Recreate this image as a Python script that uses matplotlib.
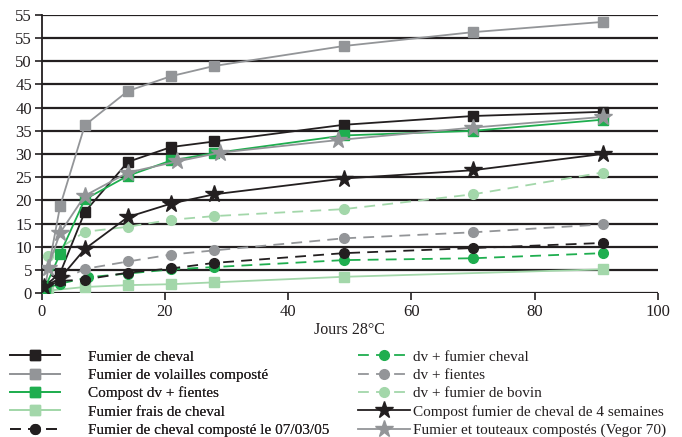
import matplotlib
matplotlib.use("Agg")
import matplotlib.pyplot as plt

plt.rcParams['font.family'] = ['Liberation Serif', 'DejaVu Serif']

# ---- data ----
labels = [
    "Fumier de cheval",
    "Fumier de volailles composté",
    "Compost dv + fientes",
    "Fumier frais de cheval",
    "Fumier de cheval composté le 07/03/05",
    "dv + fumier cheval",
    "dv + fientes",
    "dv + fumier de bovin",
    "Compost fumier de cheval de 4 semaines",
    "Fumier et touteaux compostés (Vegor 70)",
]

x_cheval = [0.5, 3, 7, 14, 21, 28, 49, 70, 91]
y_cheval = [1.5, 4.3, 17.5, 28.3, 31.5, 32.7, 36.3, 38.2, 39.1]

x_volailles = [0.5, 3, 7, 14, 21, 28, 49, 70, 91]
y_volailles = [1.0, 18.8, 36.2, 43.6, 46.8, 49.0, 53.3, 56.3, 58.5]

x_dv_fientes_c = [0.5, 3, 7, 14, 21, 28, 49, 70, 91]
y_dv_fientes_c = [1.0, 8.5, 20.2, 25.3, 28.6, 30.2, 34.0, 35.0, 37.4]

x_frais = [1, 7, 14, 21, 28, 49, 91]
y_frais = [0.5, 1.3, 1.7, 1.9, 2.3, 3.5, 5.1]

x_composte = [0.5, 3, 7, 14, 21, 28, 49, 70, 91]
y_composte = [1.4, 2.6, 2.9, 4.4, 5.3, 6.5, 8.6, 9.7, 10.8]

x_dv_cheval = [0.5, 3, 7.5, 14, 21, 28, 49, 70, 91]
y_dv_cheval = [1.0, 2.0, 3.4, 4.2, 5.1, 5.6, 7.1, 7.5, 8.6]

x_dv_fientes = [0.5, 7, 14, 21, 28, 49, 70, 91]
y_dv_fientes = [1.0, 5.2, 6.8, 8.3, 9.2, 11.8, 13.1, 14.8]

x_bovin = [1, 7, 14, 21, 28, 49, 70, 91]
y_bovin = [8.0, 13.2, 14.3, 15.8, 16.6, 18.1, 21.3, 26.0]

x_4sem = [0.3, 3, 7, 14, 21, 28, 49, 70, 91]
y_4sem = [1.3, 3.2, 9.5, 16.4, 19.3, 21.3, 24.7, 26.5, 30.0]

x_vegor = [1, 3, 7, 14, 22, 29, 48, 70, 91]
y_vegor = [5.4, 13.0, 21.0, 26.0, 28.4, 30.3, 33.0, 35.7, 38.0]

yticks = [0, 5, 10, 15, 20, 25, 30, 35, 40, 45, 50, 55, 60]
ytick_labels = ["0", "5", "10", "15", "20", "25", "30", "35", "40", "45", "50", "55", "55"]
xticks = [0, 20, 40, 60, 80, 100]

# ---- styles ----
BLACK = "#231f20"
GRAY = "#939598"
GREEN = "#1fae4f"
LGREEN = "#a3d7aa"
DASH = (0, (6, 4))

styles = [
    dict(color=BLACK, marker="s", ls="-", ms=6.5),
    dict(color=GRAY, marker="s", ls="-", ms=6.5),
    dict(color=GREEN, marker="s", ls="-", ms=6.5),
    dict(color=LGREEN, marker="s", ls="-", ms=6.5),
    dict(color=BLACK, marker="o", ls=DASH, ms=7),
    dict(color=GREEN, marker="o", ls=DASH, ms=7),
    dict(color=GRAY, marker="o", ls=DASH, ms=7),
    dict(color=LGREEN, marker="o", ls=DASH, ms=7),
    dict(color=BLACK, marker="*", ls="-", ms=13),
    dict(color=GRAY, marker="*", ls="-", ms=13),
]

series = [
    (x_cheval, y_cheval), (x_volailles, y_volailles), (x_dv_fientes_c, y_dv_fientes_c),
    (x_frais, y_frais), (x_composte, y_composte), (x_dv_cheval, y_dv_cheval),
    (x_dv_fientes, y_dv_fientes), (x_bovin, y_bovin), (x_4sem, y_4sem), (x_vegor, y_vegor),
]

fig = plt.figure(figsize=(6.82, 4.37), dpi=100)
ax = fig.add_axes([0.0611, 0.3295, 0.9037, 0.6362])

zorders = [5, 4, 5, 3, 4, 3, 3, 3, 6, 6]
handles = []
for (xs, ys), st, lab, z in zip(series, styles, labels, zorders):
    h, = ax.plot(xs, ys, color=st["color"], linestyle=st["ls"], lw=1.3,
                 marker=st["marker"], markersize=st["ms"],
                 markerfacecolor=st["color"], markeredgecolor=st["color"],
                 label=lab, zorder=z)
    handles.append(h)

ax.set_xlim(0, 100)
ax.set_ylim(0, 60)
ax.set_yticks(yticks)
ax.set_yticklabels(ytick_labels)
ax.set_xticks(xticks)
ax.tick_params(axis="both", labelsize=12, colors=BLACK, direction="out", length=5, width=1.2)
ax.tick_params(axis="x", pad=3)
ax.tick_params(axis="y", pad=2)
ax.grid(axis="y", color=BLACK, lw=1.6, zorder=0)
ax.set_axisbelow(True)
for s in ["top", "right", "bottom"]:
    ax.spines[s].set_visible(False)
ax.spines["left"].set_color(BLACK)
ax.spines["left"].set_linewidth(1.3)
ax.set_xlabel("Jours 28°C", fontsize=11.5, color=BLACK, labelpad=1)

leg1 = fig.legend(handles=handles[:5], loc="upper left", bbox_to_anchor=(0.0147, 0.199),
                  frameon=False, fontsize=11, handlelength=3.3, handletextpad=1.8,
                  labelspacing=0.3, borderaxespad=0, borderpad=0)
leg2 = fig.legend(handles=handles[5:], loc="upper left", bbox_to_anchor=(0.525, 0.199),
                  frameon=False, fontsize=11, handlelength=3.4, handletextpad=0.2,
                  labelspacing=0.3, borderaxespad=0, borderpad=0)
for leg in (leg1, leg2):
    for t in leg.get_texts():
        t.set_color(BLACK)
fig.add_artist(leg1)

fig.savefig("out.png", dpi=100)
